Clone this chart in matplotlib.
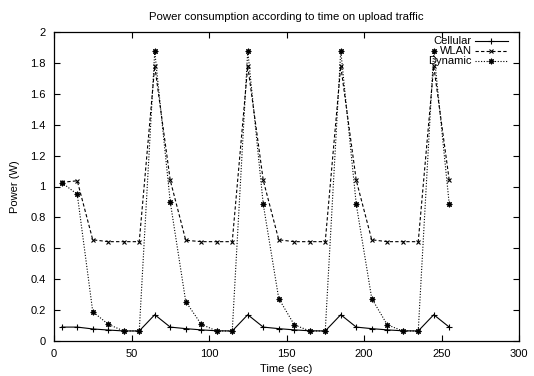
import numpy as np
import matplotlib
matplotlib.use('Agg')
import matplotlib.pyplot as plt

plt.rcParams['font.family'] = ['Liberation Sans', 'DejaVu Sans']

# time samples (sec)
time = [5, 15, 25, 35, 45, 55, 65, 75, 85, 95, 105, 115, 125,
        135, 145, 155, 165, 175, 185, 195, 205, 215, 225, 235, 245, 255]

cellular = [0.09, 0.09, 0.078, 0.071, 0.065, 0.065, 0.17, 0.09, 0.08, 0.072, 0.066, 0.065, 0.17,
            0.09, 0.08, 0.072, 0.066, 0.065, 0.17, 0.09, 0.08, 0.072, 0.066, 0.065, 0.17, 0.09]
wlan = [1.027, 1.037, 0.655, 0.643, 0.643, 0.643, 1.78, 1.04, 0.652, 0.643, 0.643, 0.643, 1.78,
        1.04, 0.655, 0.643, 0.643, 0.643, 1.78, 1.04, 0.655, 0.643, 0.643, 0.643, 1.78, 1.04]
dynamic = [1.025, 0.95, 0.19, 0.108, 0.065, 0.065, 1.875, 0.90, 0.255, 0.108, 0.065, 0.065, 1.88,
           0.885, 0.275, 0.105, 0.065, 0.065, 1.88, 0.885, 0.275, 0.105, 0.065, 0.065, 1.88, 0.885]

fig = plt.figure(figsize=(5.34, 3.76), dpi=100)
ax = fig.add_axes([54/534, 1 - 341/376, 465/534, 309/376])

ax.plot(time, cellular, color='black', lw=0.8, ls='-', marker='+', ms=4, mew=0.8, label='Cellular')
ax.plot(time, wlan, color='black', lw=0.8, ls=(0, (3, 2)), marker='x', ms=3.5, mew=0.8, label='WLAN')
ax.plot(time, dynamic, color='black', lw=0.8, ls=(0, (1, 1.5)), marker=(8, 2, 0), ms=4, mew=0.8,
        label='Dynamic')

ax.set_xlim(0, 300)
ax.set_ylim(0, 2)
ax.set_xticks(np.arange(0, 301, 50))
ax.set_yticks(np.arange(0, 2.01, 0.2))
ax.set_yticklabels(['0', '0.2', '0.4', '0.6', '0.8', '1', '1.2', '1.4', '1.6', '1.8', '2'])
ax.tick_params(direction='in', top=True, right=True, length=4, width=0.8, labelsize=8, pad=6)
for s in ax.spines.values():
    s.set_linewidth(0.9)

ax.set_title('Power consumption according to time on upload traffic', fontsize=8.2, pad=9)
ax.set_xlabel('Time (sec)', fontsize=8, labelpad=3)
ax.set_ylabel('Power (W)', fontsize=8, labelpad=7)

leg = ax.legend(loc='upper right', frameon=False, markerfirst=False, fontsize=8,
                handlelength=2.9, handletextpad=0.35, labelspacing=0.0,
                borderaxespad=0.3, borderpad=0.1, bbox_to_anchor=(0.985, 1.0))
# right-align legend text like gnuplot
leg._legend_box._children[-1]._children[0].align = 'right'

fig.savefig('out.png', dpi=100)
